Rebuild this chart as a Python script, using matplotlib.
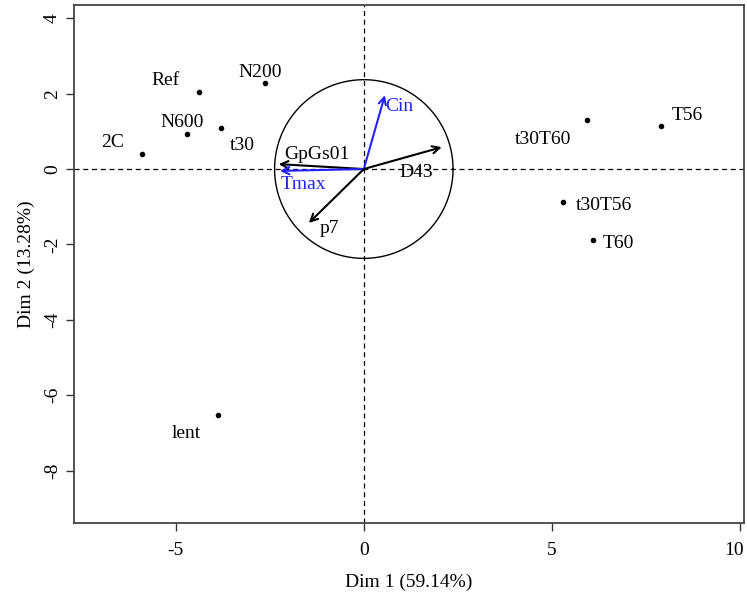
import numpy as np
import matplotlib
matplotlib.use("Agg")
import matplotlib.pyplot as plt
import matplotlib.transforms as mtransforms

# individuals (PCA scores, dim 1 / dim 2)
ind_names = ["Ref", "N200", "N600", "t30", "2C", "lent", "t30T60", "T56", "t30T56", "T60"]
ind_x = [-4.39, -2.63, -4.71, -3.80, -5.88, -3.88, 5.93, 7.90, 5.29, 6.09]
ind_y = [2.04, 2.28, 0.93, 1.09, 0.40, -6.52, 1.30, 1.14, -0.88, -1.88]

# supplementary variables (scaled correlation arrows)
var_names = ["GpGs01", "Tmax", "p7", "Cin", "D43"]
var_x = [-2.26, -2.23, -1.46, 0.56, 2.07]
var_y = [0.13, -0.05, -1.43, 1.96, 0.58]
var_col = ["black", "#2323ff", "black", "#2323ff", "black"]
circle_r = 2.37

# label offsets (pixels) relative to each mark
ind_off = {"Ref": (-33, 12), "N200": (-5, 11), "N600": (-4, 11), "t30": (22, -18),
           "2C": (-30, 11), "lent": (-31, -19), "t30T60": (-44, -19), "T56": (26, 11),
           "t30T56": (41, -3), "T60": (25, -4)}
var_off = {"GpGs01": (38, 10), "Tmax": (24, -14), "p7": (21, -6), "Cin": (14, -11), "D43": (-26, -25)}

plt.rcParams['font.family'] = ['Liberation Serif', 'DejaVu Serif']
plt.rcParams['axes.unicode_minus'] = False
fs = 14

fig = plt.figure(figsize=(7.47, 5.94), dpi=100)
ax = fig.add_axes([0.099, 0.1195, 0.897, 0.872])

ax.axhline(0, color='black', lw=0.9, ls=(0, (4, 3)))
ax.axvline(0, color='black', lw=0.9, ls=(0, (4, 3)))

th = np.linspace(0, 2 * np.pi, 300)
ax.plot(circle_r * np.cos(th), circle_r * np.sin(th), color='black', lw=1.0)

for n, x, y in zip(ind_names, ind_x, ind_y):
    ax.plot(x, y, 'o', color='black', ms=3)
    dx, dy = ind_off[n]
    ax.annotate(n, (x, y), xytext=(dx, dy), textcoords='offset pixels',
                ha='center', va='center', fontsize=fs)

for n, x, y, c in zip(var_names, var_x, var_y, var_col):
    ax.annotate('', xy=(x, y), xytext=(0, 0),
                arrowprops=dict(arrowstyle='->', color=c, lw=1.5, shrinkA=0, shrinkB=0,
                                mutation_scale=13))
    dx, dy = var_off[n]
    ax.annotate(n, (x, y), xytext=(dx, dy), textcoords='offset pixels',
                ha='center', va='center', fontsize=fs, color=c)

ax.set_xlim(-7.7, 10.1)
ax.set_ylim(-9.39, 4.35)
ax.set_xticks([-5, 0, 5, 10])
ax.set_yticks([-8, -6, -4, -2, 0, 2, 4])
ax.tick_params(labelsize=fs, length=6, width=1, color='#333333')
ax.tick_params(axis='x', pad=8)
for lab in ax.get_yticklabels():
    lab.set_rotation(90)
    lab.set_va('center')
# keep the last x tick label inside the figure
last = ax.get_xticklabels()[-1]
last.set_transform(last.get_transform() + mtransforms.ScaledTranslation(-6 / 100, 0, fig.dpi_scale_trans))
for s in ax.spines.values():
    s.set_color('#444444')
    s.set_linewidth(1.3)

ax.set_xlabel("Dim 1 (59.14%)", fontsize=fs, labelpad=10)
ax.set_ylabel("Dim 2 (13.28%)", fontsize=fs, labelpad=6)

fig.savefig("out.png", dpi=100)
